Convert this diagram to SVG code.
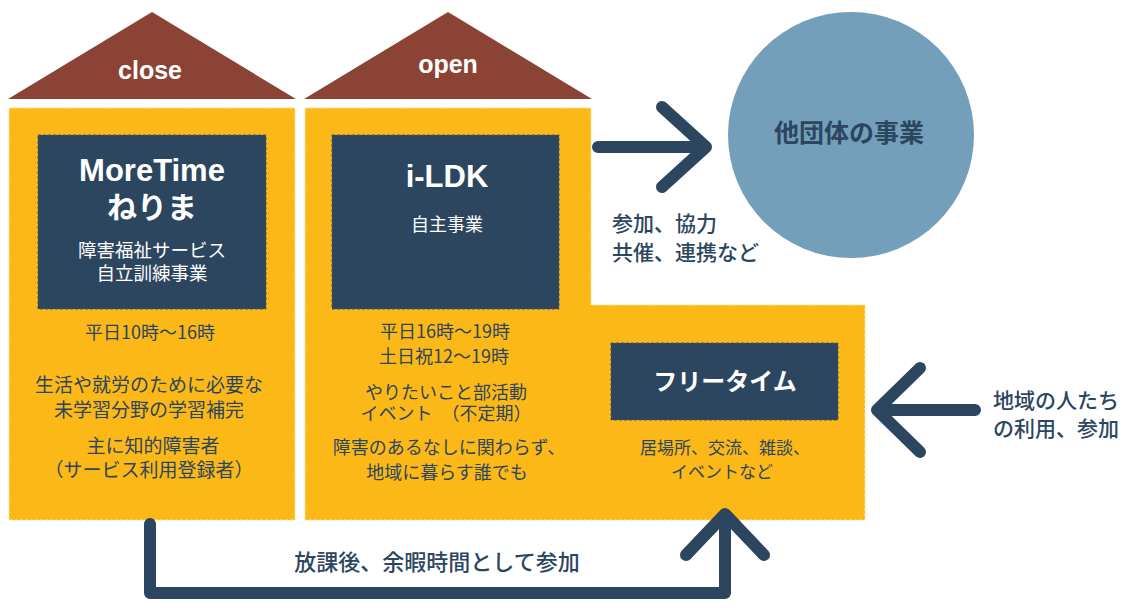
<svg xmlns="http://www.w3.org/2000/svg" width="1136" height="608" viewBox="0 0 1136 608">
<style>
.roof{fill:#8A4334}
.yellow{fill:#FBB817;stroke:#FDE3A0;stroke-width:1.2;stroke-dasharray:3 2}
.navy{fill:#2C465F;stroke:#3F5670;stroke-width:1;stroke-dasharray:3 2}
.lat{font-family:"Liberation Sans",Arial,sans-serif;font-weight:bold;fill:#fff;text-anchor:middle}
.jp{font-family:"Noto Sans CJK JP","Noto Sans",sans-serif;text-anchor:middle}
.w{fill:#fff}
.d{fill:#2C465F}
.lbl{font-family:"Noto Sans CJK JP","Noto Sans",sans-serif;fill:#2C465F;font-weight:500}
.arr{fill:none;stroke:#2C465F;stroke-width:12;stroke-linecap:round;stroke-linejoin:round}
</style>
<rect width="1136" height="608" fill="#fff"/>
<g id="node-close">
<polygon class="roof" points="8,99 152,12 296,99"/>
<text class="lat" x="150" y="79" font-size="25">close</text>
<rect class="yellow" x="9" y="108" width="286" height="412"/>
</g>
<g id="node-open">
<polygon class="roof" points="304,99 448,12 592,99"/>
<text class="lat" x="448" y="73" font-size="25">open</text>
<polygon class="yellow" points="305,108 591,108 591,305 865,305 865,520 305,520"/>
</g>
<g id="node-moretime">
<rect class="navy" x="38" y="135" width="228" height="174"/>
<text class="lat" x="152" y="181" font-size="31">MoreTime</text>
<text class="jp w" x="152" y="218" font-size="30" font-weight="bold">ねりま</text>
<text class="jp w" x="152" y="257" font-size="18.5">障害福祉サービス</text>
<text class="jp w" x="152" y="280" font-size="18.5">自立訓練事業</text>
<text class="jp d" x="150" y="339" font-size="18">平日10時～16時</text>
<text class="jp d" x="149" y="392" font-size="19">生活や就労のために必要な</text>
<text class="jp d" x="149" y="417" font-size="19">未学習分野の学習補完</text>
<text class="jp d" x="153" y="453" font-size="19">主に知的障害者</text>
<text class="jp d" x="149" y="477" font-size="19">（サービス利用登録者）</text>
</g>
<g id="node-ildk">
<rect class="navy" x="332" y="135" width="227" height="174"/>
<text class="lat" x="447" y="187" font-size="31">i-LDK</text>
<text class="jp w" x="447" y="231" font-size="18">自主事業</text>
<text class="jp d" x="445" y="338" font-size="18">平日16時～19時</text>
<text class="jp d" x="444" y="363" font-size="18">土日祝12～19時</text>
<text class="jp d" x="446" y="399" font-size="18">やりたいこと部活動</text>
<text class="jp d" x="446" y="420" font-size="18">イベント　（不定期）</text>
<text class="jp d" x="449" y="454" font-size="18">障害のあるなしに関わらず、</text>
<text class="jp d" x="447" y="479" font-size="18">地域に暮らす誰でも</text>
</g>
<g id="node-freetime">
<rect class="navy" x="611" y="343" width="227" height="77"/>
<text class="jp w" x="725" y="390" font-size="24" font-weight="bold">フリータイム</text>
<text class="jp d" x="725" y="454" font-size="17">居場所、交流、雑談、</text>
<text class="jp d" x="722" y="478" font-size="17">イベントなど</text>
</g>
<g id="node-others">
<circle cx="851" cy="135" r="123" fill="#739FBA"/>
<text class="jp d" x="849" y="142" font-size="25" font-weight="bold">他団体の事業</text>
</g>
<g id="connectors">
<path class="arr" d="M598 147 H706 M662 107 L706 147 L662 187"/>
<path class="arr" d="M975 410 H877 M920 368 L877 410 L920 452"/>
<path class="arr" d="M150 524 V593 H725 V516 M686 555 L725 514 L764 555"/>
<text class="lbl" x="612" y="231" font-size="21">参加、協力</text>
<text class="lbl" x="612" y="260" font-size="21">共催、連携など</text>
<text class="lbl" x="993" y="408" font-size="21">地域の人たち</text>
<text class="lbl" x="993" y="436" font-size="21">の利用、参加</text>
<text class="lbl" x="437" y="570" font-size="22" text-anchor="middle">放課後、余暇時間として参加</text>
</g>
</svg>
